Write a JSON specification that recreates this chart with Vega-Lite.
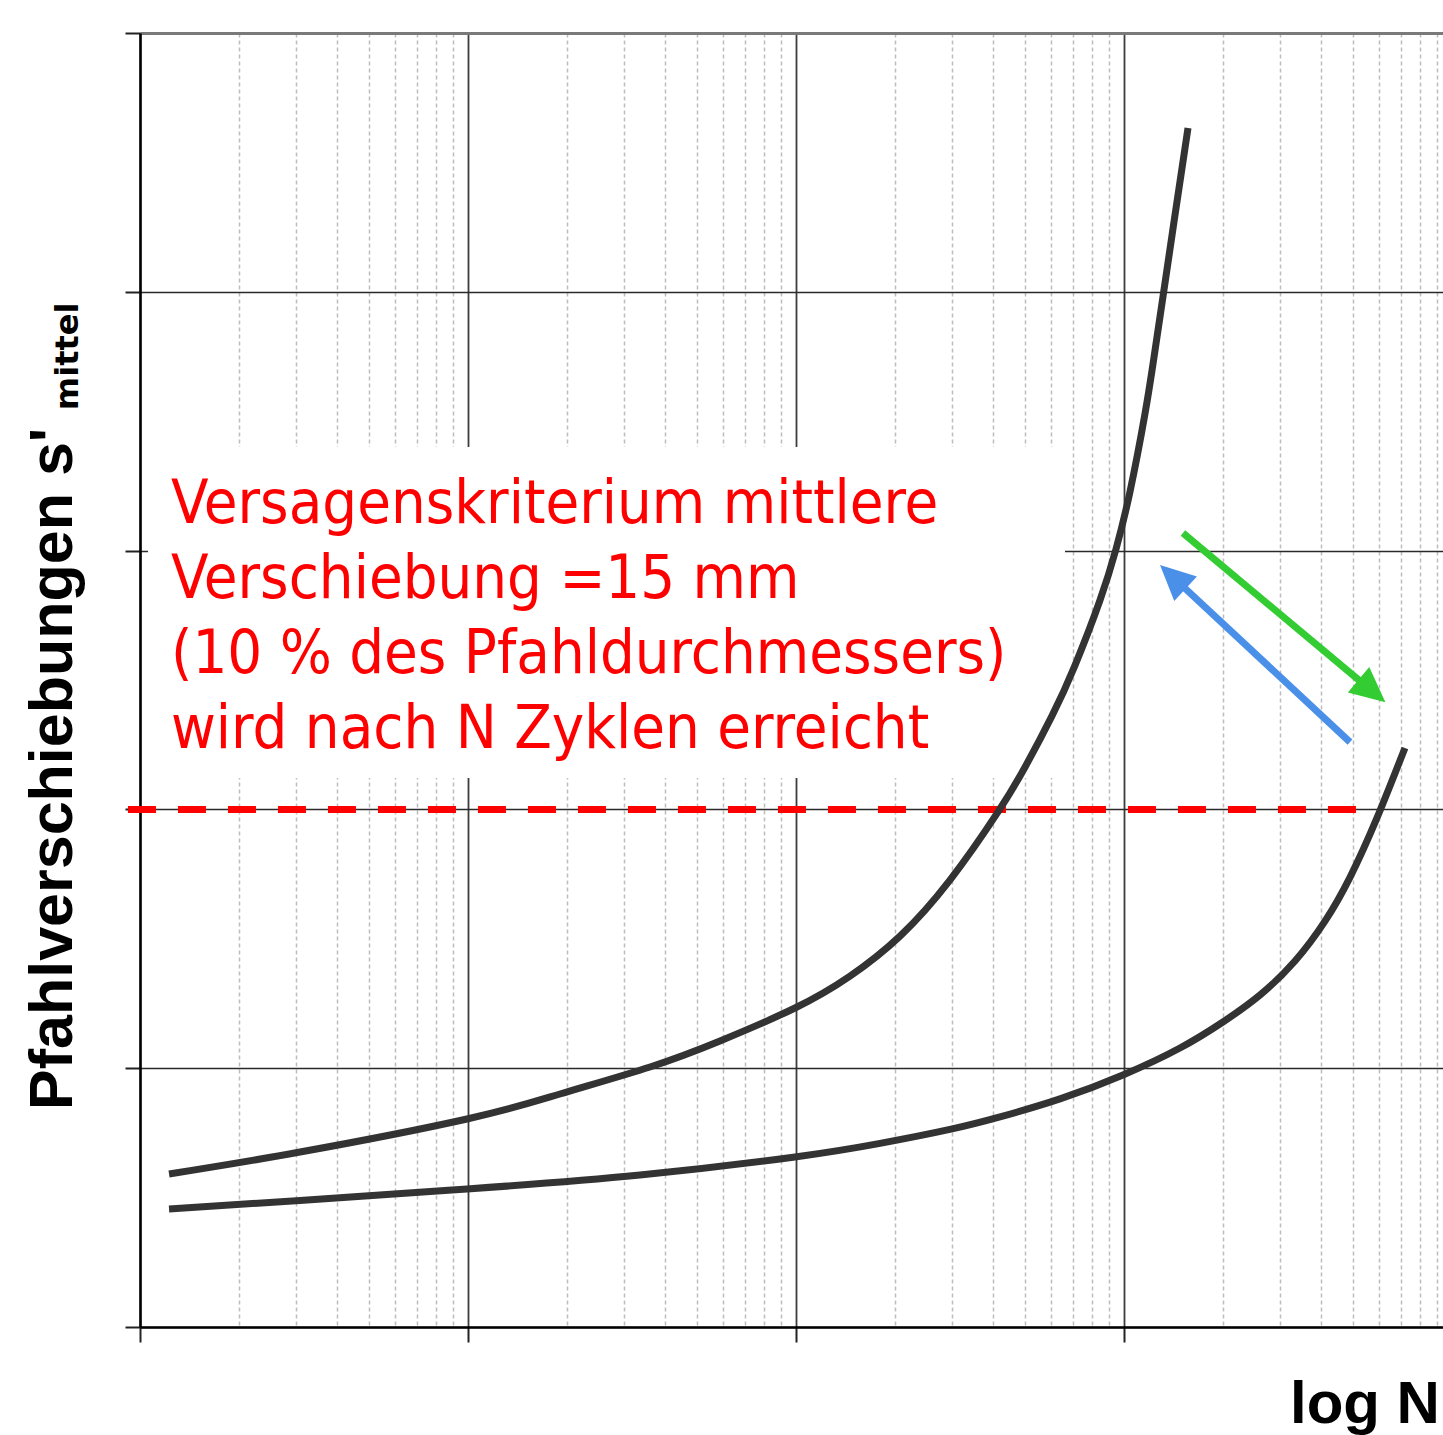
{
  "$schema": "https://vega.github.io/schema/vega-lite/v6.json",
  "width": 1303,
  "height": 1294,
  "autosize": {"type": "none"},
  "padding": {"left": 140, "top": 33, "right": 0, "bottom": 108},
  "background": "white",
  "config": {"view": {"stroke": null}},
  "datasets": {
    "curves": [
      {"curve": "A", "N": 1.226, "s": 4.434},
      {"curve": "A", "N": 3.075, "s": 5.071},
      {"curve": "A", "N": 9.933, "s": 6.028},
      {"curve": "A", "N": 19.08, "s": 6.752},
      {"curve": "A", "N": 35.9, "s": 7.535},
      {"curve": "A", "N": 58.69, "s": 8.288},
      {"curve": "A", "N": 99.36, "s": 9.245},
      {"curve": "A", "N": 146.2, "s": 10.169},
      {"curve": "A", "N": 207.7, "s": 11.328},
      {"curve": "A", "N": 294.9, "s": 12.951},
      {"curve": "A", "N": 410.4, "s": 14.884},
      {"curve": "A", "N": 499.4, "s": 16.223},
      {"curve": "A", "N": 603.7, "s": 17.71},
      {"curve": "A", "N": 709.6, "s": 19.176},
      {"curve": "A", "N": 845.6, "s": 21.06},
      {"curve": "A", "N": 946.2, "s": 22.543},
      {"curve": "A", "N": 1044, "s": 24.207},
      {"curve": "A", "N": 1160, "s": 26.467},
      {"curve": "A", "N": 1236, "s": 28.11},
      {"curve": "A", "N": 1316, "s": 29.858},
      {"curve": "A", "N": 1432, "s": 32.223},
      {"curve": "A", "N": 1569, "s": 34.747},
      {"curve": "B", "N": 1.226, "s": 3.42},
      {"curve": "B", "N": 3.075, "s": 3.666},
      {"curve": "B", "N": 9.933, "s": 3.999},
      {"curve": "B", "N": 33.46, "s": 4.405},
      {"curve": "B", "N": 99.36, "s": 4.927},
      {"curve": "B", "N": 180.5, "s": 5.321},
      {"curve": "B", "N": 294.9, "s": 5.726},
      {"curve": "B", "N": 419.1, "s": 6.089},
      {"curve": "B", "N": 638.6, "s": 6.61},
      {"curve": "B", "N": 993.8, "s": 7.303},
      {"curve": "B", "N": 1483, "s": 8.085},
      {"curve": "B", "N": 2005, "s": 8.839},
      {"curve": "B", "N": 2601, "s": 9.621},
      {"curve": "B", "N": 3325, "s": 10.607},
      {"curve": "B", "N": 4105, "s": 11.763},
      {"curve": "B", "N": 4892, "s": 13.032},
      {"curve": "B", "N": 5913, "s": 14.753},
      {"curve": "B", "N": 7196, "s": 16.782}
    ],
    "box": [{"N": 1.058, "N2": 661.5, "s": 25.5, "s2": 15.91}],
    "criterion": [{"N": 0.919, "N2": 5102, "s": 15}],
    "arrows": [
      {"id": "green", "N": 1514, "s": 23.01, "N2": 5248, "s2": 18.72},
      {"id": "blue", "N": 4893, "s": 16.95, "N2": 1515, "s2": 21.46}
    ],
    "heads": [
      {"id": "green", "N": 5709, "s": 18.43},
      {"id": "blue", "N": 1410, "s": 21.74}
    ],
    "note": [{"N": 1.243, "s": 23.3, "text": "Versagenskriterium mittlere\nVerschiebung =15 mm\n(10 % des Pfahldurchmessers)\nwird nach N Zyklen erreicht"}],
    "ytitle": [{"N": 0.6205, "s": 6.289, "text": "Pfahlverschiebungen s'"}],
    "ysub": [{"N": 0.647, "s": 26.57, "text": "mittel"}],
    "xtitle": [{"N": 9201, "s": -2.782, "text": "log N"}]
  },
  "encoding": {
    "x": {
      "field": "N",
      "type": "quantitative",
      "scale": {"type": "log", "domain": [1, 9400], "nice": false},
      "axis": {
        "values": [1,2,3,4,5,6,7,8,9,10,20,30,40,50,60,70,80,90,100,200,300,400,500,600,700,800,900,1000,2000,3000,4000,5000,6000,7000,8000,9000],
        "labels": false,
        "title": null,
        "domainColor": "#000000",
        "domainWidth": 2.5,
        "tickColor": "#222222",
        "tickWidth": 2,
        "tickSize": 15,
        "tickOpacity": {"condition": {"test": "abs(log(datum.value)/LN10 - round(log(datum.value)/LN10)) < 0.001", "value": 1}, "value": 0},
        "grid": true,
        "gridColor": {"condition": {"test": "abs(log(datum.value)/LN10 - round(log(datum.value)/LN10)) < 0.001", "value": "#3c3c3c"}, "value": "#bdbdbd"},
        "gridDash": {"condition": {"test": "abs(log(datum.value)/LN10 - round(log(datum.value)/LN10)) < 0.001", "value": []}, "value": [4, 3]},
        "gridWidth": {"condition": {"test": "abs(log(datum.value)/LN10 - round(log(datum.value)/LN10)) < 0.001", "value": 1.8}, "value": 1.5}
      }
    },
    "y": {
      "field": "s",
      "type": "quantitative",
      "scale": {"domain": [0, 37.5], "nice": false, "zero": false},
      "axis": {
        "values": [0, 7.5, 15, 22.5, 30, 37.5],
        "labels": false,
        "title": null,
        "domainColor": "#000000",
        "domainWidth": 2.5,
        "tickColor": "#222222",
        "tickWidth": 2,
        "tickSize": 15,
        "grid": true,
        "gridColor": {"condition": {"test": "datum.value == 37.5", "value": "#7a7a7a"}, "value": "#2a2a2a"},
        "gridWidth": {"condition": {"test": "datum.value == 37.5", "value": 3}, "value": 1.5}
      }
    }
  },
  "layer": [
    {
      "data": {"name": "box"},
      "mark": {"type": "rect", "fill": "white", "stroke": null},
      "encoding": {"x2": {"field": "N2"}, "y2": {"field": "s2"}}
    },
    {
      "data": {"name": "criterion"},
      "mark": {"type": "rule", "color": "#ff0000", "strokeWidth": 7, "strokeDash": [28, 22]},
      "encoding": {"x2": {"field": "N2"}}
    },
    {
      "data": {"name": "curves"},
      "mark": {"type": "line", "color": "#333333", "strokeWidth": 7, "interpolate": "natural", "strokeCap": "butt"},
      "encoding": {"detail": {"field": "curve"}}
    },
    {
      "data": {"name": "arrows"},
      "transform": [{"filter": "datum.id == 'green'"}],
      "mark": {"type": "rule", "color": "#33cc33", "strokeWidth": 7, "strokeCap": "butt"},
      "encoding": {"x2": {"field": "N2"}, "y2": {"field": "s2"}}
    },
    {
      "data": {"name": "arrows"},
      "transform": [{"filter": "datum.id == 'blue'"}],
      "mark": {"type": "rule", "color": "#4a90e8", "strokeWidth": 7, "strokeCap": "butt"},
      "encoding": {"x2": {"field": "N2"}, "y2": {"field": "s2"}}
    },
    {
      "data": {"name": "heads"},
      "transform": [{"filter": "datum.id == 'green'"}],
      "mark": {"type": "point", "shape": "M0,-1L0.95,1L-0.95,1Z", "filled": true, "color": "#33cc33", "opacity": 1, "size": 1225, "angle": 130, "strokeWidth": 0}
    },
    {
      "data": {"name": "heads"},
      "transform": [{"filter": "datum.id == 'blue'"}],
      "mark": {"type": "point", "shape": "M0,-1L0.95,1L-0.95,1Z", "filled": true, "color": "#4a90e8", "opacity": 1, "size": 1225, "angle": 313, "strokeWidth": 0}
    },
    {
      "data": {"name": "note"},
      "mark": {"type": "text", "font": "DejaVu Sans Condensed", "fontSize": 61, "color": "#ff0000", "align": "left", "baseline": "alphabetic", "lineBreak": "\n", "lineHeight": 75},
      "encoding": {"text": {"field": "text"}}
    },
    {
      "data": {"name": "ytitle"},
      "mark": {"type": "text", "font": "Liberation Sans", "fontWeight": "bold", "fontSize": 61, "color": "#000000", "align": "left", "baseline": "alphabetic", "angle": 270},
      "encoding": {"text": {"field": "text"}}
    },
    {
      "data": {"name": "ysub"},
      "mark": {"type": "text", "font": "DejaVu Sans", "fontWeight": "bold", "fontSize": 32, "color": "#000000", "align": "left", "baseline": "alphabetic", "angle": 270},
      "encoding": {"text": {"field": "text"}}
    },
    {
      "data": {"name": "xtitle"},
      "mark": {"type": "text", "font": "Liberation Sans", "fontWeight": "bold", "fontSize": 60, "color": "#000000", "align": "right", "baseline": "alphabetic"},
      "encoding": {"text": {"field": "text"}}
    }
  ]
}
